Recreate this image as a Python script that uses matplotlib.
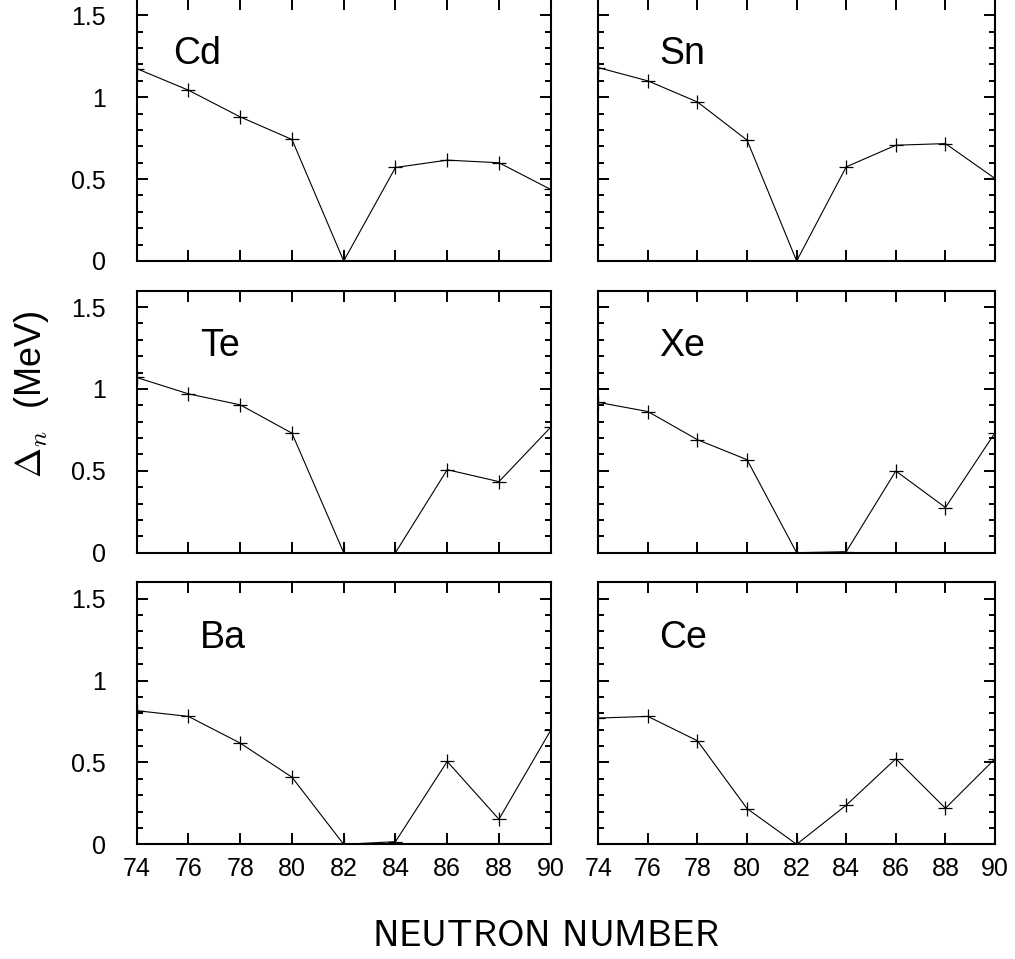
import numpy as np
import matplotlib
matplotlib.use('Agg')
import matplotlib.pyplot as plt
from matplotlib.ticker import MultipleLocator

plt.rcParams['font.family'] = ['Liberation Sans', 'DejaVu Sans']
plt.rcParams['mathtext.fontset'] = 'cm'

# neutron numbers
N = [74, 76, 78, 80, 82, 84, 86, 88, 90]

# Delta_n (MeV)
cd = [1.175, 1.043, 0.88, 0.742, 0.0, 0.571, 0.616, 0.60, 0.437]
sn = [1.181, 1.10, 0.971, 0.738, 0.0, 0.575, 0.707, 0.717, 0.504]
te = [1.07, 0.97, 0.903, 0.73, 0.0, 0.0, 0.507, 0.434, 0.766]
xe = [0.918, 0.862, 0.69, 0.568, 0.0, 0.006, 0.499, 0.276, 0.732]
ba = [0.816, 0.781, 0.618, 0.41, 0.0, 0.016, 0.506, 0.153, 0.696]
ce = [0.771, 0.781, 0.632, 0.218, 0.0, 0.239, 0.522, 0.22, 0.522]

names = ['Cd', 'Sn', 'Te', 'Xe', 'Ba', 'Ce']
series = [cd, sn, te, xe, ba, ce]
label_x = [75.4, 76.45, 76.45, 76.45, 76.45, 76.45]

W, H = 1015, 959
fig = plt.figure(figsize=(W / 100, H / 100), dpi=100)

# axes boxes in pixels: (left, width), (bottom-from-top)
cols = [(136.7, 414.0), (598.3, 396.7)]
rows = [261.0, 552.7, 844.3]
ax_h = 262.0

for i in range(6):
    r, c = divmod(i, 2)
    x0, w = cols[c]
    ax = fig.add_axes([x0 / W, (H - rows[r]) / H, w / W, ax_h / H])
    ax.plot(N, series[i], color='black', lw=0.8, marker='+', ms=10, mew=0.9)
    ax.set_xlim(74, 90)
    ax.set_ylim(0, 1.6)
    ax.xaxis.set_major_locator(MultipleLocator(2))
    ax.yaxis.set_major_locator(MultipleLocator(0.5))
    ax.yaxis.set_minor_locator(MultipleLocator(0.1))
    ax.tick_params(which='both', direction='in', top=True, right=True, width=1.4)
    ax.tick_params(which='major', length=8)
    ax.tick_params(which='minor', length=4.5)
    ax.tick_params(axis='x', pad=9, labelsize=18)
    ax.tick_params(axis='y', pad=22, labelsize=18)
    ax.set_yticks([0, 0.5, 1, 1.5])
    ax.set_yticklabels(['0', '0.5', '1', '1.5'])
    for s in ax.spines.values():
        s.set_linewidth(1.5)
    if c == 1:
        ax.tick_params(labelleft=False)
    if r < 2:
        ax.tick_params(labelbottom=False)
    ax.text(label_x[i], 1.2, names[i], fontsize=27, va='baseline', ha='left')

fig.text(32 / W, 1 - 394 / H, r'$\Delta_n$  (MeV)', rotation=90, fontsize=26,
         ha='center', va='center')
fig.text(546 / W, 1 - 936 / H, r'$\mathsf{NEUTRON\ NUMBER}$', fontsize=27,
         ha='center', va='center')

fig.savefig('out.png', dpi=100)
